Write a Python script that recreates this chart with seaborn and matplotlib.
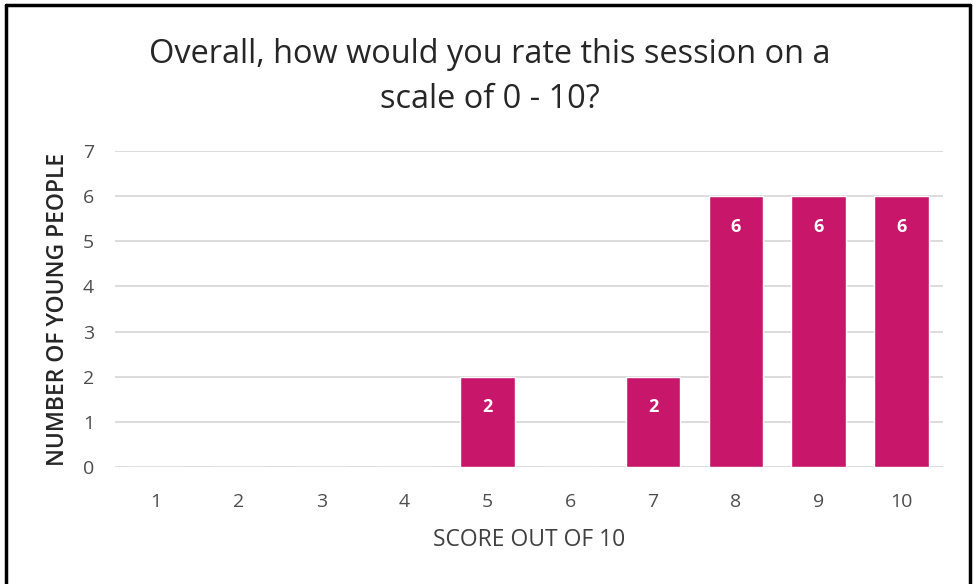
import matplotlib
matplotlib.use("Agg")
import matplotlib.pyplot as plt
import seaborn as sns
from matplotlib.lines import Line2D

# data
scores = ["1", "2", "3", "4", "5", "6", "7", "8", "9", "10"]
counts = [0, 0, 0, 0, 2, 0, 2, 6, 6, 6]
y_ticks = [0, 1, 2, 3, 4, 5, 6, 7]

bar_color = "#C8166B"
grid_color = "#D9D9D9"

sns.set_style("white")
plt.rcParams["font.family"] = ["Open Sans", "DejaVu Sans"]

fig = plt.figure(figsize=(9.73, 5.84), dpi=100)
ax = fig.add_axes([0.118, 0.2003, 0.851, 0.5411])

sns.barplot(x=scores, y=counts, order=scores, color=bar_color,
            width=0.66, saturation=1, ax=ax)

ax.set_ylim(0, 7)
ax.set_xlim(-0.5, len(scores) - 0.5)
ax.set_yticks(y_ticks)
ax.yaxis.grid(True, color=grid_color, linewidth=1.3)
ax.set_axisbelow(True)
sns.despine(ax=ax, left=True, bottom=True)
ax.tick_params(axis="both", length=0, labelsize=14, colors="#4D4D4D")
ax.tick_params(axis="x", pad=19)
ax.tick_params(axis="y", pad=15)

ax.set_xlabel("SCORE OUT OF 10", fontsize=16.5, color="#404040", labelpad=12)
ax.set_ylabel("NUMBER OF YOUNG PEOPLE", fontsize=16.5, color="#262626",
              fontweight="semibold", labelpad=9)

for i, v in enumerate(counts):
    if v > 0:
        ax.annotate(str(v), xy=(i, v), xytext=(0, -22), textcoords="offset points",
                    ha="center", va="center", color="white", fontsize=13,
                    fontweight="bold")

fig.text(0.5036, 1 - 77 / 584,
         "Overall, how would you rate this session on a\nscale of 0 - 10?",
         ha="center", va="center", fontsize=23.4, color="#262626",
         linespacing=1.45)

# frame around the picture (left, top, right)
for xs, ys in [([0.0062, 0.0062], [0, 0.9906]),
               ([0.0062, 0.9974], [0.9906, 0.9906]),
               ([0.9974, 0.9974], [0, 0.9906])]:
    fig.add_artist(Line2D(xs, ys, transform=fig.transFigure, color="black",
                          linewidth=2.5))

fig.savefig("out.png", dpi=100, facecolor="white")
